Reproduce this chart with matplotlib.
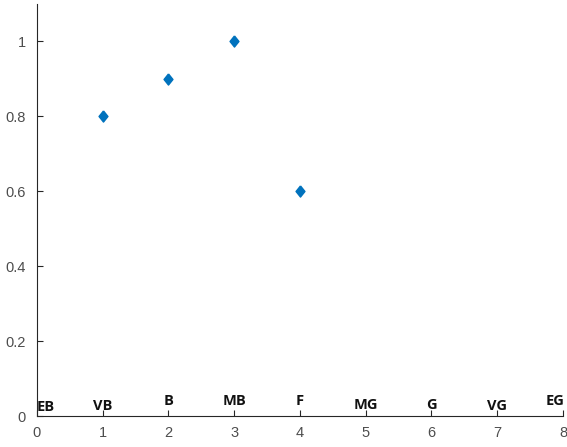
import matplotlib
matplotlib.use('Agg')
import matplotlib.pyplot as plt

# data
x_vals = [1, 2, 3, 4]
y_vals = [0.8, 0.9, 1.0, 0.6]

# linguistic terms along the bottom
term_labels = ['EB', 'VB', 'B', 'MB', 'F', 'MG', 'G', 'VG', 'EG']
term_x = [0.0, 1, 2, 3, 4, 5, 6, 7, 7.88]
term_y = [0.014, 0.017, 0.029, 0.029, 0.029, 0.019, 0.019, 0.016, 0.031]

fig = plt.figure(figsize=(5.67, 4.47), dpi=100)
ax = fig.add_axes([0.065, 0.069, 0.928, 0.923])

# MATLAB-like diamond: slightly taller than wide
diamond = [(0, 1), (0.8, 0), (0, -1), (-0.8, 0), (0, 1)]
ax.plot(x_vals, y_vals, linestyle='none', marker=diamond, markersize=8,
        color='#0072BD')

for lab, tx, ty in zip(term_labels, term_x, term_y):
    ha = 'left' if lab == 'EB' else 'center'
    ax.text(tx, ty, lab, ha=ha, va='baseline', fontsize=10.5, fontweight='bold',
            family='Open Sans', color='#111111')

ax.set_xlim(0, 8)
ax.set_ylim(0, 1.1)
ax.set_xticks(range(0, 9))
ax.set_yticks([0, 0.2, 0.4, 0.6, 0.8, 1])
ax.set_yticklabels(['0', '0.2', '0.4', '0.6', '0.8', '1'])

ax.spines['top'].set_visible(False)
ax.spines['right'].set_visible(False)
for s in ['left', 'bottom']:
    ax.spines[s].set_color('#262626')
    ax.spines[s].set_linewidth(0.8)
ax.tick_params(direction='in', length=4, colors='#262626', labelcolor='#4d4d4d',
               labelsize=10.5)
ax.tick_params(axis='x', pad=7)
ax.tick_params(axis='y', pad=8)
for t in ax.get_xticklabels() + ax.get_yticklabels():
    t.set_family('Liberation Sans')

fig.savefig('out.png', dpi=100)
